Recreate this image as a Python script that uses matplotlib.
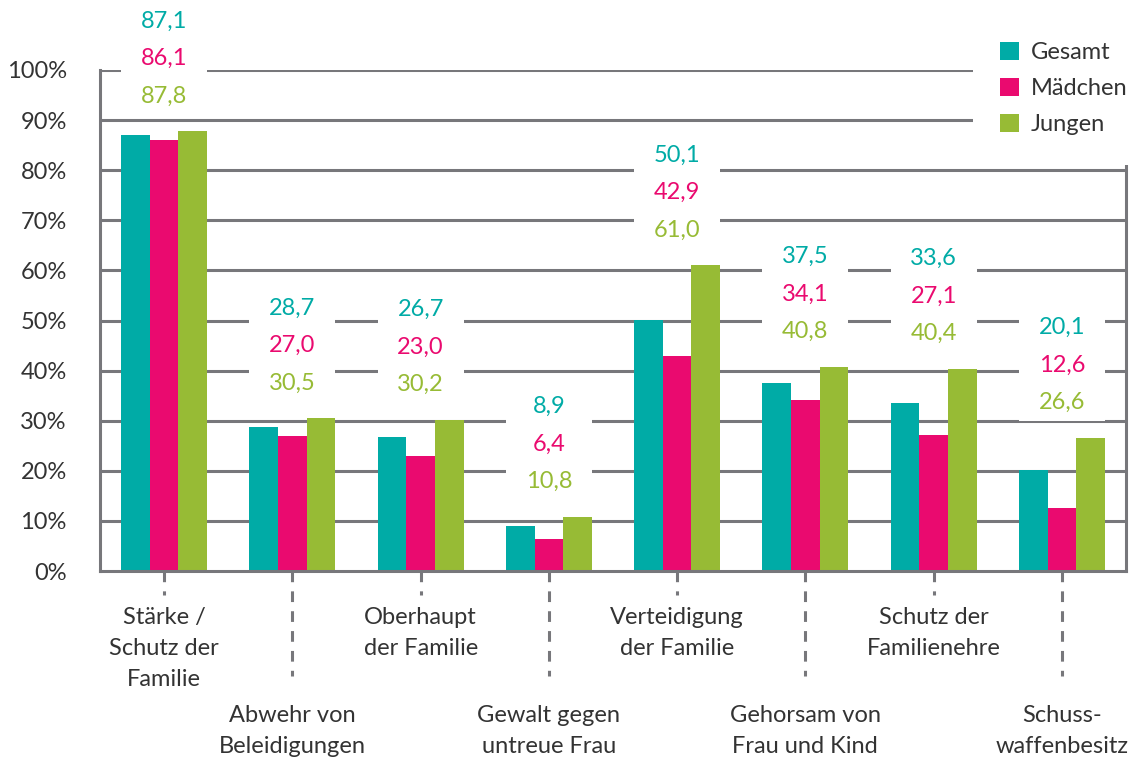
import matplotlib
matplotlib.use("Agg")
import matplotlib.pyplot as plt
from matplotlib import font_manager
from matplotlib.patches import Rectangle, Patch
import matplotlib.transforms as mtransforms
import numpy as np

categories = [
    "Stärke /\nSchutz der\nFamilie",
    "Abwehr von\nBeleidigungen",
    "Oberhaupt\nder Familie",
    "Gewalt gegen\nuntreue Frau",
    "Verteidigung\nder Familie",
    "Gehorsam von\nFrau und Kind",
    "Schutz der\nFamilienehre",
    "Schuss-\nwaffenbesitz",
]
series_names = ["Gesamt", "Mädchen", "Jungen"]
gesamt = [87.1, 28.7, 26.7, 8.9, 50.1, 37.5, 33.6, 20.1]
maedchen = [86.1, 27.0, 23.0, 6.4, 42.9, 34.1, 27.1, 12.6]
jungen = [87.8, 30.5, 30.2, 10.8, 61.0, 40.8, 40.4, 26.6]
yticks = [0, 10, 20, 30, 40, 50, 60, 70, 80, 90, 100]

colors = ["#00ABA6", "#EA0A6F", "#97BB35"]
grid_c = "#77777B"
text_c = "#333333"

avail = {f.name for f in font_manager.fontManager.ttflist}
fam = "Liberation Sans Narrow" if "Liberation Sans Narrow" in avail else "Lato"
plt.rcParams["font.family"] = [fam, "DejaVu Sans"]

W, H = 1134, 759
fig = plt.figure(figsize=(W / 100, H / 100), dpi=100)
ax = fig.add_axes([100 / W, 1 - 571 / H, (1126 - 100) / W, (571 - 70) / H])

x = np.arange(len(categories))
bw = 0.223
data = [gesamt, maedchen, jungen]
for i, (vals, c) in enumerate(zip(data, colors)):
    ax.bar(x + (i - 1) * bw, vals, width=bw, color=c, zorder=2, linewidth=0)

ax.set_xlim(-0.5, len(categories) - 0.5)
ax.set_ylim(0, 100)
for t in yticks[1:]:
    ax.axhline(t, color=grid_c, lw=2.2, zorder=0.5)
ax.set_yticks(yticks)
ax.set_yticklabels([f"{t}%" for t in yticks], fontsize=17, color=text_c)
ax.tick_params(axis="y", length=0, pad=24)
ax.set_xticks([])
ax.spines["top"].set_visible(False)
for s in ["left", "bottom", "right"]:
    ax.spines[s].set_color(grid_c)
    ax.spines[s].set_linewidth(2.2)

# value labels with white backing boxes
step = 7.5
off = 7.0
for j in range(len(categories)):
    base = max(gesamt[j], maedchen[j], jungen[j]) + off
    rect = Rectangle((x[j] - 1.5 * bw, base - step / 2), 3 * bw, 3 * step,
                     facecolor="white", edgecolor="none", zorder=2.7, clip_on=False)
    ax.add_patch(rect)
    for k, (vals, c) in enumerate(zip(data[::-1], colors[::-1])):
        ax.text(x[j], base + k * step, f"{vals[j]:.1f}".replace(".", ","),
                ha="center", va="center", color=c, fontsize=17, zorder=3, clip_on=False)

# dashed category ticks and labels
trans = mtransforms.blended_transform_factory(ax.transData, ax.transAxes)
ppu = (571 - 70)  # axes height in px
for j, lab in enumerate(categories):
    depth = 24 if j % 2 == 0 else 105
    ax.plot([x[j], x[j]], [0, -depth / ppu], transform=trans, color=grid_c,
            lw=2.2, ls=(0, (3.5, 3.0)), clip_on=False, zorder=1)
    ytop = 607 if j % 2 == 0 else 705
    ax.text(x[j], -(ytop - 571) / ppu, lab, transform=trans, ha="center", va="top",
            fontsize=17, color=text_c, linespacing=1.6)

# legend with white backing
fig.patches.append(Rectangle((973 / W, 1 - 165 / H), (W - 973) / W, 165 / H,
                             transform=fig.transFigure, facecolor="white",
                             edgecolor="none", zorder=1))
handles = [Patch(facecolor=c, edgecolor="none") for c in colors]
fig.legend(handles, series_names, loc="upper left", bbox_to_anchor=(979 / W, 1 - 21 / H),
           frameon=False, fontsize=17, handlelength=0.8, handleheight=0.8,
           labelspacing=0.62, handletextpad=0.5, labelcolor=text_c)

fig.savefig("out.png", dpi=100)
